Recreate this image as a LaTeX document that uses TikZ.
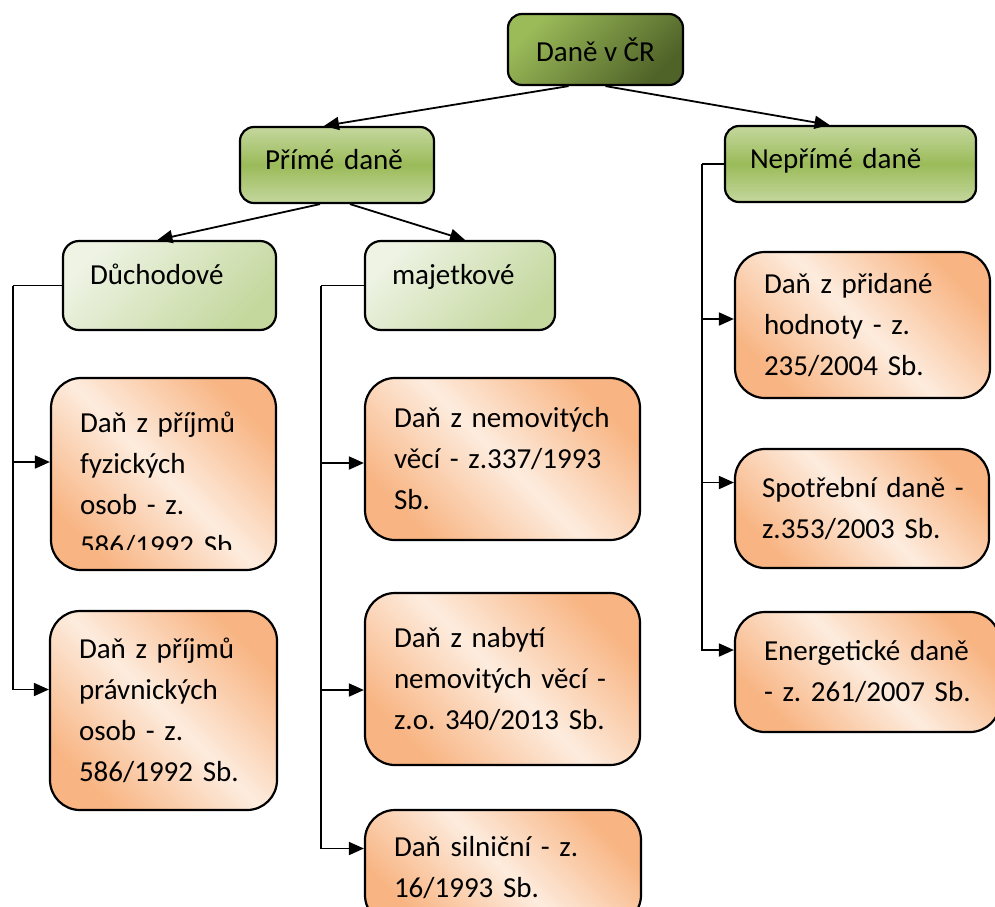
\documentclass[tikz,border=0pt]{standalone}
\usepackage{fontspec}
\setmainfont{Carlito}
\usepackage{tikz}
\usetikzlibrary{arrows.meta, positioning, calc}

\definecolor{olivedark}{RGB}{79,98,40}
\definecolor{olivemid}{RGB}{155,187,89}
\definecolor{olivelight}{RGB}{196,215,158}
\definecolor{olivepale}{RGB}{238,243,228}
\definecolor{olivesoft}{RGB}{196,216,158}
\definecolor{peach}{RGB}{248,180,130}
\definecolor{peachpale}{RGB}{253,236,222}

\begin{document}
\begin{tikzpicture}[x=1pt, y=-1pt,
    font=\fontsize{29pt}{41pt}\selectfont\frenchspacing,
    nodebox/.style={draw=black, line width=2.2pt, inner sep=0pt},
    rootbox/.style={nodebox, rounded corners=14pt, top color=olivemid, bottom color=olivedark, shading angle=45, align=center},
    kindbox/.style={nodebox, rounded corners=14pt, top color=olivelight, bottom color=olivelight, middle color=olivemid, inner xsep=25pt, align=left, text depth=11pt},
    groupbox/.style={nodebox, rounded corners=16pt, top color=olivepale, bottom color=olivesoft, shading angle=45, inner xsep=27pt, align=left, text depth=23pt},
    taxbox/.style={nodebox, rounded corners=30pt, top color=peach, bottom color=peach, middle color=peachpale, shading angle=-45, inner xsep=29pt, align=left},
    taxtext/.style={inner sep=0pt, align=left},
    link/.style={line width=1.8pt, -{Triangle[length=15pt,width=13pt]}},
    bus/.style={line width=1.8pt}]
    \useasboundingbox (0,0) rectangle (995,906);

    % upper levels
    \node[rootbox, minimum width=175pt, minimum height=71pt] (dane) at (595.5,49.5) {Daně v ČR};
    \node[kindbox, minimum width=194pt, minimum height=76pt, text width=144pt] (prime) at (337,165) {Přímé daně};
    \node[kindbox, minimum width=251pt, minimum height=76pt, text width=201pt] (neprime) at (850.5,164) {Nepřímé daně};
    \node[groupbox, minimum width=213pt, minimum height=89pt, text width=159pt] (duch) at (169.5,285.5) {Důchodové};
    \node[groupbox, minimum width=190pt, minimum height=89pt, text width=136pt] (majet) at (460,285.5) {majetkové};

    % taxes
    \node[taxbox, minimum width=225pt, minimum height=192pt] (fyz) at (163.5,474) {};
    \begin{scope}
        \clip (fyz.north west) rectangle (fyz.east |- 0,549);
        \node[taxtext, text width=167pt] (fyzlbl) at (163.5,484) {Daň z~příjmů\\fyzických\\osob~-~z.\\586/1992~Sb.};
    \end{scope}
    \node[taxbox, minimum width=227pt, minimum height=199pt, text width=169pt] (prav) at (163.5,710.5) {Daň z~příjmů\\právnických\\osob~-~z.\\586/1992~Sb.};
    \node[taxbox, minimum width=275pt, minimum height=162pt, text width=217pt] (nemov) at (502.5,459) {Daň~z~nemovitých\\věcí~-~z.337/1993\\Sb.};
    \node[taxbox, minimum width=275pt, minimum height=172pt, text width=217pt] (nabyti) at (502.5,679) {Daň z~nabytí\\nemovitých~věcí~-\\z.o.~340/2013~Sb.};
    \node[taxbox, minimum width=276pt, minimum height=115pt, text width=218pt] (silnic) at (503,867.5) {Daň silniční~-~z.\\16/1993~Sb.};
    \node[taxbox, minimum width=255pt, minimum height=146pt, text width=197pt] (dph) at (862.5,325) {Daň z~přidané\\hodnoty~-~z.\\235/2004~Sb.};
    \node[taxbox, inner xsep=27pt, minimum width=254pt, minimum height=119pt, text width=200pt] (spotreb) at (862,508.5) {\mbox{Spotřební daně -}\\z.353/2003~Sb.};
    \node[taxbox, minimum width=265pt, minimum height=120pt, text width=207pt] (energ) at (867.5,672) {Energetické~daně\\-~z.~261/2007~Sb.};

    % tree arrows
    \draw[link] ([xshift=-27pt]dane.south) -- ([xshift=-13pt]prime.north);
    \draw[link] ([xshift=10pt]dane.south) -- ([xshift=-21pt]neprime.north);
    \draw[link] ([xshift=-17pt]prime.south) -- ([xshift=-12pt]duch.north);
    \draw[link] ([xshift=13pt]prime.south) -- ([xshift=5pt]majet.north);

    % side buses
    \coordinate (busL) at (13,285.5);
    \coordinate (busM) at (321,285.5);
    \coordinate (busR) at (702,164);
    \draw[bus] (duch.west) -- (busL);
    \draw[link] (busL) |- ([yshift=12pt]fyz.west);
    \draw[link] (busL) |- ([yshift=21pt]prav.west);
    \draw[bus] (majet.west) -- (busM);
    \draw[link] (busM) |- ([yshift=-4pt]nemov.west);
    \draw[link] (busM) |- ([yshift=-11pt]nabyti.west);
    \draw[link] (busM) |- ([yshift=19pt]silnic.west);
    \draw[bus] (neprime.west) -- (busR);
    \draw[link] (busR) |- ([yshift=6pt]dph.west);
    \draw[link] (busR) |- ([yshift=26pt]spotreb.west);
    \draw[link] (busR) |- ([yshift=22pt]energ.west);
\end{tikzpicture}
\end{document}
